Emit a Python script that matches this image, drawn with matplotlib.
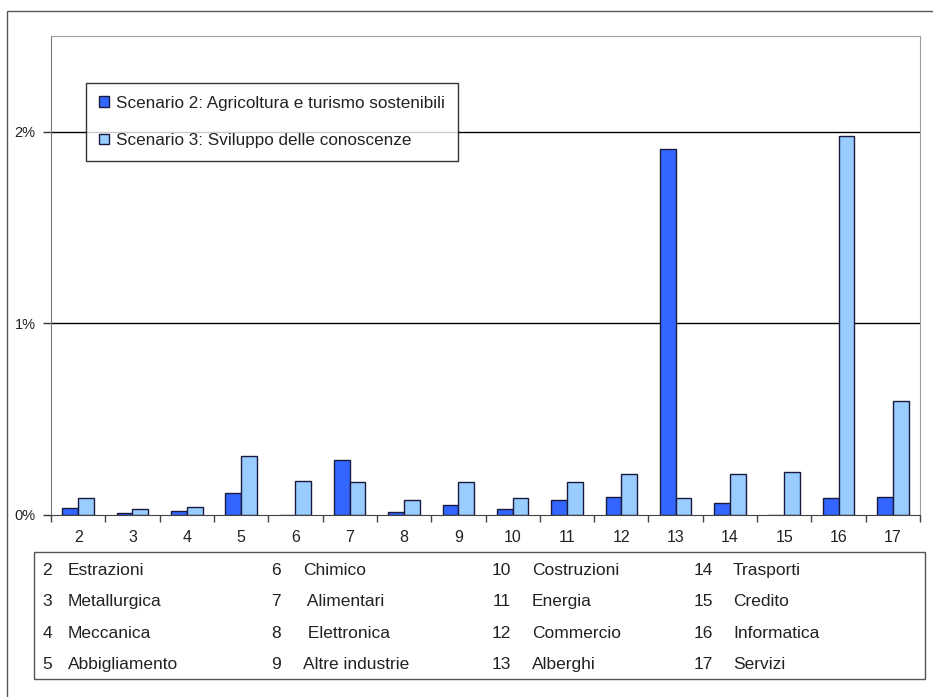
import matplotlib
matplotlib.use("Agg")
import matplotlib.pyplot as plt
from matplotlib.patches import Rectangle
from matplotlib.ticker import FixedLocator
import numpy as np

plt.rcParams['font.family'] = ['Liberation Sans', 'DejaVu Sans']

# ---- data ----
sectors = [2, 3, 4, 5, 6, 7, 8, 9, 10, 11, 12, 13, 14, 15, 16, 17]
scenario2 = [0.037, 0.01, 0.02, 0.113, 0.0, 0.286, 0.018, 0.054, 0.031, 0.078,
             0.095, 1.91, 0.061, 0.0, 0.09, 0.095]
scenario3 = [0.09, 0.03, 0.042, 0.306, 0.18, 0.17, 0.078, 0.17, 0.09, 0.17,
             0.212, 0.09, 0.212, 0.222, 1.98, 0.595]
series_labels = ["Scenario 2: Agricoltura e turismo sostenibili",
                 "Scenario 3: Sviluppo delle conoscenze"]
y_ticks = [0, 1, 2]
y_ticklabels = ["0%", "1%", "2%"]
sector_names = ["Estrazioni", "Metallurgica", "Meccanica", "Abbigliamento",
                "Chimico", " Alimentari", " Elettronica", "Altre industrie",
                "Costruzioni", "Energia", "Commercio", "Alberghi",
                "Trasporti", "Credito", "Informatica", "Servizi"]

W, H = 933, 697
fig = plt.figure(figsize=(W / 100, H / 100), dpi=100)

def fx(px):
    return px / W

def fy(py):
    return 1 - py / H

# outer frame
fig.patches.append(Rectangle((fx(7), fy(705)), fx(940) - fx(7), fy(11) - fy(705),
                             transform=fig.transFigure, fill=False,
                             edgecolor="#555555", linewidth=1.0))

ax = fig.add_axes([fx(51), fy(515), fx(920) - fx(51), fy(36) - fy(515)])

x = np.array(sectors, dtype=float)
bw = 0.29
c_dark = "#3366FF"
c_light = "#99CCFF"
edge = "#1a1a40"
ax.bar(x - bw / 2, scenario2, width=bw, color=c_dark, edgecolor=edge,
       linewidth=1.0, label=series_labels[0], zorder=3)
ax.bar(x + bw / 2, scenario3, width=bw, color=c_light, edgecolor=edge,
       linewidth=1.0, label=series_labels[1], zorder=3)

ax.set_xlim(1.5, 17.5)
ax.set_ylim(0, 2.5)

ax.set_yticks(y_ticks)
ax.set_yticklabels(y_ticklabels, fontsize=10.5, color="#222222")
for yv in y_ticks[1:]:
    ax.axhline(yv, color="black", linewidth=1.0, zorder=1)

ax.set_xticks(x)
ax.set_xticklabels([str(s) for s in sectors], fontsize=11.5, color="#222222")
ax.xaxis.set_minor_locator(FixedLocator(np.arange(1.5, 18.0, 1.0)))
ax.tick_params(axis="x", which="major", length=0, pad=11)
ax.tick_params(axis="x", which="minor", length=5, width=1.0, color="#444444")
ax.tick_params(axis="y", which="major", length=6, width=1.0, color="#333333",
               pad=5)

for s in ["top", "right"]:
    ax.spines[s].set_color("#a0a0a0")
ax.spines["left"].set_color("#777777")
ax.spines["bottom"].set_color("#444444")
ax.spines["bottom"].set_zorder(4)

leg = ax.legend(loc="upper left", fontsize=12.3,
                frameon=True, fancybox=False, handlelength=0.6, handleheight=0.6,
                handletextpad=0.4, labelspacing=1.3, borderpad=0.75,
                borderaxespad=0)
leg.set_bbox_to_anchor((fx(86), fy(83)), transform=fig.transFigure)
leg.get_frame().set_edgecolor("black")
leg.get_frame().set_linewidth(1.0)
for t in leg.get_texts():
    t.set_color("#222222")

# sector table
fig.patches.append(Rectangle((fx(34), fy(679)), fx(925) - fx(34), fy(552) - fy(679),
                             transform=fig.transFigure, fill=False,
                             edgecolor="#555555", linewidth=1.0))
num_right = [52, 281, 511, 713]
name_left = [68, 303, 532, 733]
row_base = [575, 606, 638, 669]
for i, (s, name) in enumerate(zip(sectors, sector_names)):
    col, row = divmod(i, 4)
    fig.text(fx(num_right[col]), fy(row_base[row]), str(s), ha="right",
             va="baseline", fontsize=12.5, color="#222222")
    fig.text(fx(name_left[col]), fy(row_base[row]), name, ha="left",
             va="baseline", fontsize=12.5, color="#222222")

fig.savefig("out.png", dpi=100)
